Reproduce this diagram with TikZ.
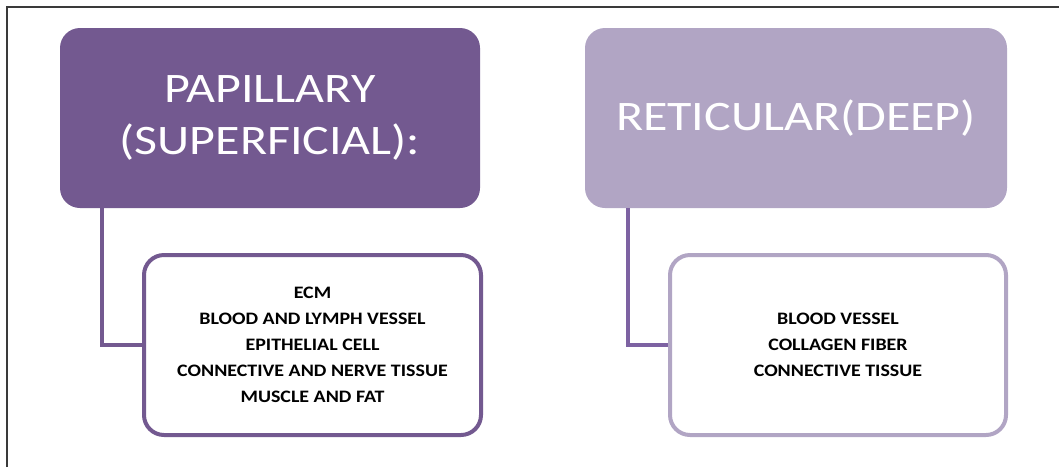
\documentclass[tikz,border=0pt]{standalone}
\usepackage{fontspec}
\setmainfont{Carlito}
\newfontfamily\titlefont[FakeStretch=1.19]{Carlito}
\newfontfamily\itemfont[FakeStretch=1.14]{Carlito}
\definecolor{darkpurple}{HTML}{735990}
\definecolor{lightpurple}{HTML}{B1A5C4}
\definecolor{linkpurple}{HTML}{7D62A2}
\definecolor{framegray}{HTML}{3A3A3A}
\begin{document}
\begin{tikzpicture}[x=1pt,y=-1pt,
  titlebox/.style={rounded corners=20pt, minimum width=420pt, minimum height=180pt,
    inner sep=0pt, align=center, text=white,
    font=\titlefont\fontsize{42}{52}\selectfont},
  itembox/.style={draw, line width=4pt, fill=white, rounded corners=20pt,
    minimum width=337pt, minimum height=180pt, inner sep=0pt, align=center,
    text=black, font=\itemfont\bfseries\fontsize{17.5}{26}\selectfont},
  link/.style={line width=4pt}]
\useasboundingbox (0,0) rectangle (1059,467);
\draw[line width=2pt, framegray] (7,467) -- (7,7) -- (1059,7);

\node[titlebox, fill=darkpurple] (pap) at (270,118) {PAPILLARY\\(SUPERFICIAL):};
\node[titlebox, fill=lightpurple, minimum width=422pt] (ret) at (796,118) {RETICULAR(DEEP)};

\node[itembox, draw=darkpurple] (papitems) at (312.5,345)
  {ECM\\BLOOD AND LYMPH VESSEL\\EPITHELIAL CELL\\CONNECTIVE AND NERVE TISSUE\\MUSCLE AND FAT};
\node[itembox, draw=lightpurple, minimum width=336pt] (retitems) at (838,345)
  {BLOOD VESSEL\\COLLAGEN FIBER\\CONNECTIVE TISSUE};

\draw[link, darkpurple] (pap.south west) ++(42,0) |- (papitems.west);
\draw[link, linkpurple] (ret.south west) ++(43,0) |- (retitems.west);
\end{tikzpicture}
\end{document}
